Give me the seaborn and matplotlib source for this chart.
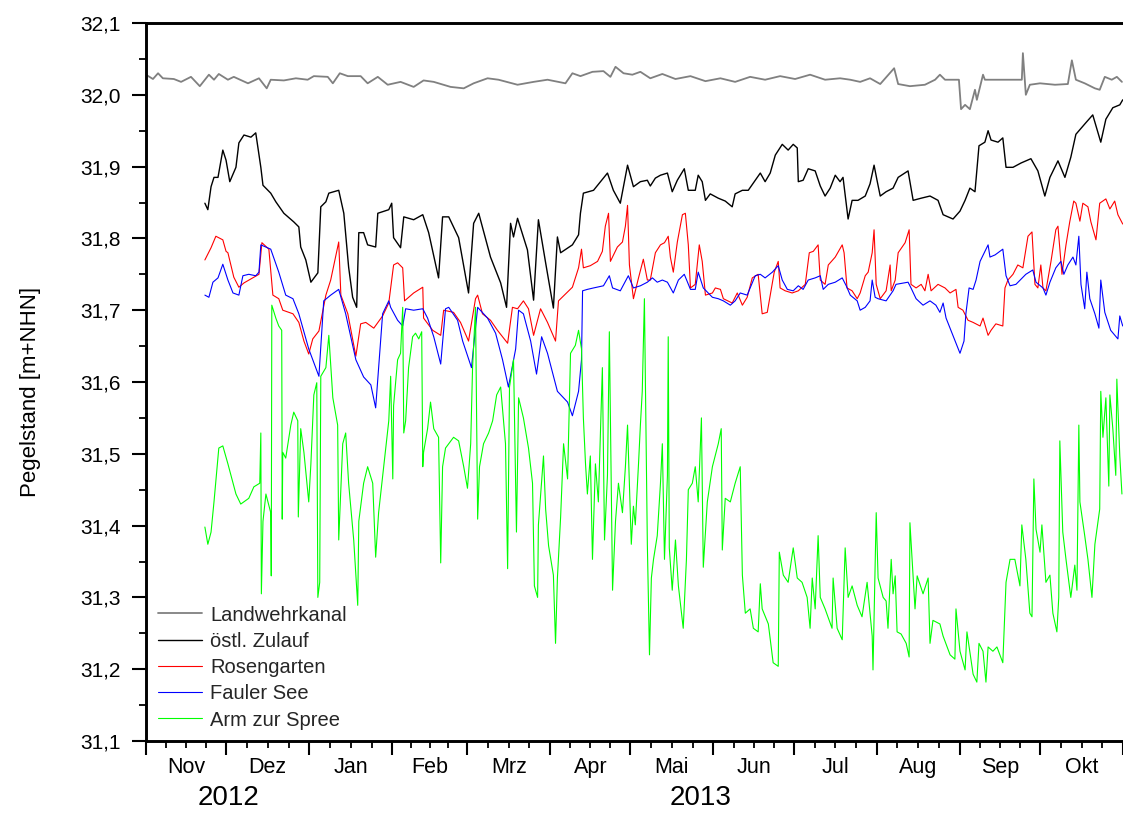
import pandas as pd
import matplotlib
matplotlib.use("Agg")
import matplotlib.pyplot as plt
import matplotlib.dates as mdates
from matplotlib.ticker import MultipleLocator, FuncFormatter, FixedLocator, NullFormatter
from matplotlib.transforms import blended_transform_factory
from matplotlib import font_manager
import seaborn as sns

# ---------------- data (day offset from 2012-11-01, water level m+NHN) ----------------
START = pd.Timestamp("2012-11-01")

landwehrkanal = [
    (0.0, 32.028), (2.6, 32.022), (4.5, 32.030), (6.3, 32.023), (10.4, 32.022), (13.1, 32.018),
    (16.8, 32.025), (20.1, 32.012), (23.5, 32.028), (25.4, 32.021), (27.2, 32.029), (30.6, 32.021),
    (32.8, 32.025), (38.1, 32.016), (42.2, 32.023), (45.1, 32.009), (46.6, 32.021), (51.5, 32.020),
    (56.0, 32.023), (60.4, 32.021), (62.7, 32.026), (67.9, 32.025), (69.8, 32.016), (72.4, 32.030),
    (75.4, 32.026), (80.2, 32.026), (82.8, 32.016), (86.6, 32.025), (90.3, 32.014), (95.1, 32.018),
    (100.0, 32.011), (103.7, 32.020), (107.5, 32.018), (113.8, 32.011), (118.7, 32.009), (122.4, 32.016),
    (127.6, 32.023), (131.7, 32.021), (138.8, 32.014), (144.8, 32.018), (150.0, 32.021), (156.7, 32.016),
    (159.3, 32.030), (162.3, 32.026), (166.8, 32.032), (170.9, 32.033), (173.5, 32.025), (175.4, 32.039),
    (178.4, 32.030), (181.7, 32.028), (184.7, 32.032), (188.4, 32.023), (192.9, 32.029), (197.8, 32.022),
    (203.4, 32.026), (209.0, 32.019), (214.6, 32.023), (220.1, 32.018), (225.7, 32.025), (231.3, 32.021),
    (236.9, 32.026), (242.5, 32.022), (248.1, 32.028), (253.7, 32.021), (259.3, 32.023), (263.1, 32.021),
    (266.8, 32.018), (270.5, 32.023), (274.3, 32.015), (279.5, 32.037), (281.0, 32.015), (285.4, 32.012),
    (291.0, 32.014), (294.8, 32.021), (296.6, 32.028), (298.5, 32.021), (303.7, 32.021), (304.5, 31.980),
    (306.0, 31.986), (307.8, 31.980), (309.7, 32.007), (310.4, 31.993), (312.7, 32.028), (313.4, 32.021),
    (327.2, 32.021), (327.6, 32.058), (328.7, 32.000), (330.2, 32.014), (334.0, 32.016), (339.6, 32.014),
    (344.4, 32.015), (345.9, 32.048), (347.4, 32.021), (350.7, 32.016), (354.5, 32.009), (356.3, 32.007),
    (358.2, 32.025), (360.8, 32.021), (362.7, 32.025), (364.6, 32.018),
]

oestl_zulauf = [
    (22.0, 31.849), (23.1, 31.840), (24.3, 31.872), (25.4, 31.885), (26.9, 31.885), (28.7, 31.923),
    (29.9, 31.909), (31.3, 31.879), (33.6, 31.899), (34.7, 31.933), (36.6, 31.944), (39.2, 31.941),
    (41.0, 31.947), (41.8, 31.927), (42.9, 31.899), (43.7, 31.874), (46.6, 31.863), (48.5, 31.851),
    (51.5, 31.835), (55.2, 31.823), (57.1, 31.816), (57.8, 31.788), (59.7, 31.770), (61.6, 31.739),
    (64.2, 31.752), (65.3, 31.844), (67.2, 31.851), (68.3, 31.863), (72.0, 31.867), (73.9, 31.835),
    (75.7, 31.760), (77.2, 31.718), (78.7, 31.704), (79.5, 31.808), (81.3, 31.808), (82.8, 31.791),
    (85.8, 31.788), (86.6, 31.835), (90.7, 31.840), (91.8, 31.849), (92.5, 31.801), (95.1, 31.787),
    (96.3, 31.830), (100.0, 31.826), (103.4, 31.833), (105.6, 31.808), (109.3, 31.745), (110.8, 31.830),
    (113.1, 31.830), (116.8, 31.801), (120.5, 31.724), (122.4, 31.821), (124.3, 31.835), (128.7, 31.774),
    (132.5, 31.738), (134.7, 31.704), (136.2, 31.821), (137.3, 31.802), (138.8, 31.828), (142.5, 31.784),
    (144.8, 31.714), (146.6, 31.826), (149.3, 31.766), (152.2, 31.703), (153.7, 31.802), (154.9, 31.780),
    (159.3, 31.791), (161.6, 31.805), (162.3, 31.835), (163.4, 31.863), (167.2, 31.867), (172.4, 31.891),
    (174.6, 31.867), (177.2, 31.849), (179.9, 31.902), (182.1, 31.872), (184.7, 31.879), (187.3, 31.881),
    (188.4, 31.873), (190.3, 31.884), (192.2, 31.888), (194.8, 31.891), (196.6, 31.865), (198.5, 31.881),
    (201.1, 31.897), (202.6, 31.867), (205.2, 31.867), (206.3, 31.888), (207.8, 31.879), (209.0, 31.853),
    (210.8, 31.862), (213.8, 31.856), (216.4, 31.852), (219.0, 31.844), (220.1, 31.862), (222.8, 31.867),
    (225.0, 31.867), (227.6, 31.881), (229.5, 31.891), (231.3, 31.879), (233.2, 31.891), (235.1, 31.916),
    (237.7, 31.931), (239.9, 31.923), (241.8, 31.931), (243.3, 31.926), (243.7, 31.879), (245.5, 31.881),
    (247.4, 31.897), (250.0, 31.894), (251.9, 31.873), (253.7, 31.859), (255.6, 31.870), (257.5, 31.888),
    (259.3, 31.879), (260.4, 31.885), (262.3, 31.827), (263.8, 31.853), (266.0, 31.853), (268.7, 31.859),
    (270.5, 31.876), (272.0, 31.902), (273.1, 31.881), (274.3, 31.859), (276.5, 31.865), (279.1, 31.870),
    (281.0, 31.885), (284.7, 31.894), (286.6, 31.853), (289.6, 31.856), (292.9, 31.859), (295.9, 31.853),
    (297.8, 31.833), (301.5, 31.827), (304.1, 31.838), (306.0, 31.853), (307.8, 31.870), (309.7, 31.865),
    (311.2, 31.929), (313.4, 31.934), (314.6, 31.950), (315.7, 31.937), (318.3, 31.934), (320.1, 31.940),
    (321.3, 31.899), (323.9, 31.899), (326.9, 31.905), (330.6, 31.911), (333.2, 31.894), (335.8, 31.859),
    (337.7, 31.885), (340.7, 31.908), (343.3, 31.885), (345.5, 31.913), (347.4, 31.945), (351.1, 31.961),
    (353.7, 31.972), (356.7, 31.934), (358.6, 31.966), (361.2, 31.982), (363.8, 31.986), (364.9, 31.993),
]

rosengarten = [
    (22.0, 31.770), (24.3, 31.787), (26.1, 31.803), (28.7, 31.798), (29.9, 31.782), (30.6, 31.780),
    (32.8, 31.746), (34.7, 31.732), (36.6, 31.738), (39.9, 31.745), (42.2, 31.750), (43.3, 31.794),
    (45.9, 31.785), (47.4, 31.721), (49.6, 31.716), (51.1, 31.700), (54.9, 31.695), (57.1, 31.683),
    (59.0, 31.657), (60.8, 31.639), (62.3, 31.660), (64.6, 31.671), (67.2, 31.721), (69.0, 31.742),
    (72.0, 31.795), (72.8, 31.721), (75.4, 31.695), (78.4, 31.636), (80.2, 31.681), (82.1, 31.683),
    (85.1, 31.675), (88.4, 31.692), (90.7, 31.710), (92.5, 31.763), (94.0, 31.766), (95.9, 31.759),
    (96.6, 31.713), (100.0, 31.724), (103.4, 31.732), (103.7, 31.689), (107.1, 31.672), (110.1, 31.665),
    (111.2, 31.700), (114.9, 31.697), (117.5, 31.683), (120.5, 31.657), (123.1, 31.716), (123.9, 31.721),
    (125.7, 31.695), (128.7, 31.686), (131.3, 31.672), (135.1, 31.654), (136.9, 31.704), (138.8, 31.702),
    (141.0, 31.713), (142.9, 31.702), (144.8, 31.665), (147.4, 31.702), (150.0, 31.683), (153.0, 31.657),
    (154.1, 31.713), (159.3, 31.732), (161.6, 31.759), (162.7, 31.785), (163.4, 31.759), (166.0, 31.762),
    (168.7, 31.768), (170.5, 31.782), (171.6, 31.817), (172.8, 31.835), (173.5, 31.768), (176.1, 31.788),
    (178.0, 31.795), (179.1, 31.817), (179.9, 31.846), (180.6, 31.763), (182.1, 31.716), (184.0, 31.745),
    (185.8, 31.771), (187.3, 31.742), (188.4, 31.742), (190.3, 31.780), (192.2, 31.791), (193.7, 31.794),
    (195.1, 31.803), (195.9, 31.774), (197.0, 31.753), (198.5, 31.795), (200.4, 31.833), (201.5, 31.835),
    (202.6, 31.791), (203.4, 31.731), (205.2, 31.736), (206.7, 31.791), (207.8, 31.768), (209.0, 31.721),
    (211.6, 31.724), (212.7, 31.731), (214.6, 31.729), (215.7, 31.716), (219.0, 31.710), (220.9, 31.724),
    (222.8, 31.707), (224.6, 31.718), (226.5, 31.745), (228.7, 31.750), (230.2, 31.695), (232.1, 31.697),
    (233.2, 31.721), (234.7, 31.753), (236.2, 31.768), (236.9, 31.731), (238.8, 31.727), (241.4, 31.724),
    (243.7, 31.727), (246.3, 31.736), (247.8, 31.780), (249.3, 31.782), (251.1, 31.791), (251.9, 31.742),
    (253.7, 31.736), (254.9, 31.763), (257.5, 31.774), (260.1, 31.791), (260.8, 31.780), (261.9, 31.731),
    (263.8, 31.727), (265.7, 31.716), (266.8, 31.724), (268.7, 31.748), (269.8, 31.753), (271.3, 31.780),
    (272.0, 31.812), (272.8, 31.736), (274.3, 31.716), (276.5, 31.727), (278.0, 31.763), (278.4, 31.727),
    (279.9, 31.742), (281.0, 31.780), (283.6, 31.794), (285.1, 31.812), (285.8, 31.736), (287.7, 31.731),
    (289.6, 31.736), (291.0, 31.727), (292.2, 31.750), (293.3, 31.727), (295.9, 31.736), (298.5, 31.731),
    (300.4, 31.724), (302.6, 31.729), (303.4, 31.704), (305.2, 31.700), (307.1, 31.686), (309.0, 31.683),
    (311.6, 31.678), (312.7, 31.689), (314.6, 31.665), (315.7, 31.672), (317.5, 31.681), (320.1, 31.678),
    (320.9, 31.731), (322.0, 31.742), (323.9, 31.750), (325.7, 31.763), (327.6, 31.759), (329.5, 31.803),
    (331.0, 31.809), (332.1, 31.736), (333.2, 31.731), (334.3, 31.763), (335.1, 31.731), (336.2, 31.727),
    (338.1, 31.768), (339.9, 31.812), (340.7, 31.817), (342.2, 31.750), (343.7, 31.791), (345.1, 31.823),
    (346.6, 31.852), (347.4, 31.849), (348.9, 31.824), (350.0, 31.849), (351.9, 31.844), (353.0, 31.823),
    (354.9, 31.798), (356.3, 31.849), (358.6, 31.855), (360.1, 31.841), (361.9, 31.852), (363.1, 31.833),
    (364.9, 31.820),
]

fauler_see = [
    (22.0, 31.721), (23.5, 31.718), (25.0, 31.739), (26.9, 31.745), (28.7, 31.764), (30.6, 31.742),
    (32.5, 31.724), (34.7, 31.721), (36.2, 31.748), (38.4, 31.750), (41.0, 31.748), (42.2, 31.753),
    (42.9, 31.791), (46.6, 31.785), (49.6, 31.753), (52.2, 31.721), (54.9, 31.716), (57.1, 31.695),
    (60.8, 31.646), (64.6, 31.608), (66.4, 31.713), (69.0, 31.721), (72.0, 31.729), (74.6, 31.695),
    (78.4, 31.631), (81.3, 31.607), (84.0, 31.596), (85.8, 31.564), (88.4, 31.695), (90.7, 31.713),
    (91.4, 31.704), (94.0, 31.686), (95.9, 31.678), (97.0, 31.702), (100.0, 31.700), (103.4, 31.702),
    (105.2, 31.689), (107.5, 31.663), (110.1, 31.625), (111.9, 31.702), (113.1, 31.704), (116.4, 31.686),
    (118.3, 31.657), (121.6, 31.620), (123.9, 31.704), (127.6, 31.689), (130.6, 31.668), (133.2, 31.631),
    (135.4, 31.593), (138.1, 31.646), (139.2, 31.700), (141.0, 31.695), (143.7, 31.657), (145.9, 31.611),
    (147.8, 31.663), (150.0, 31.640), (153.7, 31.587), (157.5, 31.572), (159.3, 31.553), (161.6, 31.587),
    (162.7, 31.631), (163.1, 31.727), (164.9, 31.729), (167.2, 31.731), (170.9, 31.734), (173.1, 31.748),
    (174.3, 31.731), (177.2, 31.727), (180.2, 31.748), (182.1, 31.731), (184.7, 31.734), (187.3, 31.739),
    (189.2, 31.745), (191.0, 31.739), (192.9, 31.742), (194.8, 31.739), (197.0, 31.724), (198.9, 31.742),
    (201.1, 31.750), (203.4, 31.729), (205.2, 31.729), (206.3, 31.753), (208.2, 31.731), (211.6, 31.718),
    (213.8, 31.716), (215.7, 31.713), (218.3, 31.707), (220.1, 31.713), (222.0, 31.724), (224.6, 31.721),
    (227.6, 31.748), (229.5, 31.750), (231.3, 31.745), (234.0, 31.753), (236.2, 31.762), (237.7, 31.742),
    (239.6, 31.729), (241.8, 31.727), (243.7, 31.734), (245.5, 31.729), (247.4, 31.742), (250.0, 31.745),
    (251.9, 31.748), (253.0, 31.729), (254.9, 31.736), (257.5, 31.739), (260.1, 31.745), (261.6, 31.734),
    (263.1, 31.721), (265.7, 31.713), (266.8, 31.700), (268.7, 31.704), (270.5, 31.713), (271.3, 31.742),
    (272.4, 31.718), (273.5, 31.716), (276.5, 31.713), (279.1, 31.727), (280.2, 31.736), (284.7, 31.739),
    (285.8, 31.731), (287.7, 31.716), (290.3, 31.707), (292.9, 31.713), (295.1, 31.707), (296.6, 31.697),
    (297.8, 31.710), (298.9, 31.689), (300.7, 31.672), (302.6, 31.654), (304.1, 31.640), (305.6, 31.657),
    (306.3, 31.695), (307.5, 31.731), (309.0, 31.729), (310.1, 31.742), (311.6, 31.768), (313.4, 31.782),
    (314.6, 31.791), (315.3, 31.774), (317.2, 31.777), (320.1, 31.785), (321.3, 31.748), (322.8, 31.734),
    (325.0, 31.736), (328.7, 31.750), (331.3, 31.756), (332.5, 31.739), (335.1, 31.731), (336.2, 31.721),
    (337.7, 31.739), (339.9, 31.759), (341.8, 31.768), (342.9, 31.750), (344.4, 31.763), (346.3, 31.774),
    (347.4, 31.763), (348.5, 31.803), (349.3, 31.736), (350.7, 31.702), (351.5, 31.753), (352.6, 31.716),
    (354.5, 31.695), (356.0, 31.675), (356.7, 31.742), (358.2, 31.697), (360.4, 31.672), (363.1, 31.660),
    (363.8, 31.692), (364.9, 31.678),
]

arm_zur_spree = [
    (22.0, 31.398), (23.1, 31.374), (24.3, 31.391), (25.4, 31.433), (27.2, 31.508), (28.7, 31.511),
    (30.6, 31.486), (33.6, 31.444), (35.4, 31.430), (38.4, 31.438), (40.3, 31.454), (42.5, 31.459),
    (42.9, 31.529), (43.1, 31.305), (43.7, 31.406), (44.8, 31.444), (46.6, 31.418), (46.8, 31.330),
    (47.0, 31.707), (48.5, 31.689), (49.6, 31.678), (50.7, 31.672), (50.9, 31.409), (51.1, 31.502),
    (52.2, 31.494), (54.1, 31.540), (55.2, 31.558), (56.7, 31.546), (56.9, 31.412), (57.8, 31.535),
    (59.0, 31.502), (60.8, 31.433), (61.6, 31.486), (62.7, 31.582), (63.8, 31.599), (64.2, 31.300),
    (64.9, 31.321), (65.3, 31.608), (67.2, 31.620), (68.3, 31.665), (69.8, 31.578), (71.6, 31.540),
    (72.0, 31.380), (73.5, 31.514), (74.6, 31.529), (75.7, 31.459), (77.6, 31.380), (79.1, 31.289),
    (79.5, 31.406), (81.3, 31.459), (82.8, 31.482), (84.7, 31.459), (85.8, 31.356), (86.9, 31.418),
    (88.8, 31.482), (90.7, 31.546), (91.4, 31.608), (92.2, 31.465), (92.5, 31.567), (94.0, 31.631),
    (95.1, 31.640), (95.9, 31.704), (96.3, 31.529), (97.0, 31.546), (98.1, 31.620), (99.6, 31.663),
    (100.7, 31.668), (101.9, 31.660), (103.0, 31.670), (103.4, 31.482), (103.7, 31.502), (105.2, 31.535),
    (106.3, 31.572), (107.5, 31.535), (109.3, 31.523), (110.1, 31.348), (110.8, 31.482), (111.9, 31.508),
    (114.9, 31.523), (116.8, 31.518), (118.7, 31.482), (120.1, 31.452), (121.3, 31.514), (122.0, 31.620),
    (123.1, 31.704), (123.9, 31.409), (124.6, 31.482), (126.1, 31.514), (128.0, 31.529), (129.5, 31.546),
    (131.0, 31.582), (132.5, 31.593), (134.3, 31.514), (135.1, 31.340), (135.8, 31.593), (137.3, 31.631),
    (138.4, 31.391), (139.2, 31.578), (141.0, 31.550), (142.9, 31.508), (144.4, 31.459), (145.1, 31.316),
    (146.3, 31.300), (146.6, 31.401), (148.5, 31.497), (149.3, 31.423), (150.4, 31.372), (152.2, 31.331),
    (153.0, 31.236), (153.7, 31.327), (154.9, 31.412), (156.0, 31.514), (157.5, 31.465), (158.6, 31.640),
    (160.4, 31.651), (161.6, 31.672), (162.7, 31.646), (163.4, 31.550), (164.2, 31.486), (164.9, 31.444),
    (166.0, 31.497), (166.8, 31.353), (167.9, 31.486), (169.0, 31.433), (170.5, 31.620), (171.3, 31.380),
    (172.4, 31.470), (173.1, 31.670), (174.3, 31.310), (175.4, 31.406), (176.5, 31.459), (178.0, 31.418),
    (179.1, 31.482), (179.9, 31.540), (181.3, 31.374), (182.1, 31.427), (182.8, 31.401), (184.0, 31.486),
    (184.7, 31.540), (185.4, 31.587), (186.2, 31.716), (187.3, 31.374), (188.1, 31.220), (188.8, 31.327),
    (189.6, 31.353), (191.0, 31.386), (192.2, 31.459), (192.9, 31.514), (193.7, 31.353), (194.8, 31.470),
    (195.1, 31.663), (195.5, 31.369), (196.6, 31.310), (197.8, 31.380), (198.9, 31.316), (200.7, 31.257),
    (201.9, 31.353), (202.6, 31.450), (204.1, 31.459), (205.2, 31.482), (206.3, 31.433), (207.5, 31.550),
    (208.2, 31.342), (209.7, 31.433), (211.6, 31.482), (213.8, 31.514), (214.9, 31.535), (215.3, 31.366),
    (216.4, 31.438), (218.3, 31.433), (220.1, 31.459), (222.0, 31.482), (222.8, 31.331), (223.9, 31.278),
    (225.7, 31.284), (226.9, 31.257), (228.7, 31.252), (229.5, 31.319), (230.2, 31.284), (232.5, 31.263),
    (234.3, 31.209), (236.2, 31.204), (236.6, 31.363), (238.1, 31.331), (239.9, 31.321), (241.8, 31.369),
    (243.3, 31.327), (245.1, 31.321), (247.0, 31.300), (248.1, 31.257), (248.9, 31.327), (250.0, 31.284),
    (251.1, 31.386), (251.9, 31.300), (253.7, 31.284), (256.3, 31.257), (256.7, 31.327), (258.2, 31.257),
    (260.1, 31.241), (261.2, 31.369), (262.3, 31.300), (263.8, 31.316), (265.7, 31.289), (267.5, 31.273),
    (269.4, 31.321), (271.3, 31.246), (271.6, 31.199), (272.8, 31.418), (273.5, 31.327), (275.4, 31.300),
    (276.5, 31.295), (277.2, 31.257), (278.4, 31.353), (279.1, 31.305), (279.9, 31.330), (280.6, 31.252),
    (282.1, 31.249), (284.0, 31.236), (285.1, 31.217), (285.4, 31.404), (287.3, 31.284), (288.1, 31.330),
    (290.3, 31.305), (292.2, 31.327), (292.9, 31.236), (294.0, 31.268), (296.6, 31.263), (297.8, 31.246),
    (300.4, 31.220), (302.2, 31.214), (302.6, 31.284), (304.1, 31.225), (306.0, 31.199), (306.7, 31.252),
    (309.0, 31.193), (310.4, 31.182), (311.2, 31.236), (312.7, 31.225), (313.8, 31.182), (314.6, 31.231),
    (316.4, 31.225), (317.9, 31.231), (320.1, 31.209), (321.3, 31.321), (322.8, 31.353), (324.6, 31.353),
    (326.5, 31.316), (327.2, 31.401), (328.7, 31.353), (330.2, 31.278), (331.0, 31.273), (331.7, 31.465),
    (332.5, 31.395), (334.0, 31.363), (334.7, 31.401), (336.2, 31.321), (337.7, 31.331), (338.8, 31.278),
    (340.3, 31.252), (341.0, 31.300), (341.4, 31.518), (342.5, 31.391), (343.7, 31.353), (345.5, 31.300),
    (347.0, 31.345), (347.8, 31.310), (348.5, 31.540), (348.9, 31.433), (350.7, 31.386), (351.9, 31.353),
    (353.4, 31.300), (354.5, 31.374), (356.3, 31.423), (356.7, 31.587), (357.5, 31.523), (358.6, 31.578),
    (359.7, 31.455), (360.1, 31.582), (361.2, 31.535), (362.3, 31.470), (362.7, 31.604), (363.8, 31.497),
    (364.6, 31.444),
]

series_names = ["Landwehrkanal", "östl. Zulauf", "Rosengarten", "Fauler See", "Arm zur Spree"]
series_data = [landwehrkanal, oestl_zulauf, rosengarten, fauler_see, arm_zur_spree]
series_colors = ["#808080", "#000000", "#ff0000", "#0000ff", "#00ff00"]
series_widths = [1.3, 1.0, 0.8, 0.8, 0.8]
month_labels = ["Nov", "Dez", "Jan", "Feb", "Mrz", "Apr", "Mai", "Jun", "Jul", "Aug", "Sep", "Okt"]
year_labels = [("2012", 31), ("2013", 207)]

# ---------------- long-form table ----------------
rows = []
for name, data in zip(series_names, series_data):
    for d, v in data:
        rows.append((name, START + pd.Timedelta(days=d), v))
df = pd.DataFrame(rows, columns=["Messstelle", "Datum", "Pegel"])

# ---------------- figure ----------------
sns.set_style("ticks")
plt.rcParams["font.family"] = ["Liberation Sans", "DejaVu Sans"]

installed = {f.name for f in font_manager.fontManager.ttflist}
if "Liberation Sans Narrow" in installed:
    ylabel_family, ylabel_size = ["Liberation Sans Narrow", "Liberation Sans"], 19
else:
    ylabel_family, ylabel_size = ["Liberation Sans", "DejaVu Sans"], 16

W, H = 1123, 813
fig = plt.figure(figsize=(W / 100, H / 100), dpi=100)
ax = fig.add_axes([146 / W, (H - 741) / H, (W - 146) / W, (741 - 23) / H])

for name, color, lw in zip(series_names, series_colors, series_widths):
    sub = df[df["Messstelle"] == name]
    sns.lineplot(data=sub, x="Datum", y="Pegel", color=color, linewidth=lw,
                 label=name, ax=ax, estimator=None, sort=False)

# x axis
ax.set_xlim(START, START + pd.Timedelta(days=365))
month_starts = pd.date_range("2012-11-01", "2013-11-01", freq="MS")
ax.xaxis.set_major_locator(FixedLocator(mdates.date2num(month_starts)))
ax.xaxis.set_major_formatter(NullFormatter())
minor = []
for a, b in zip(month_starts[:-1], month_starts[1:]):
    for k in (1, 2, 3):
        minor.append(mdates.date2num(a + (b - a) * k / 4))
ax.xaxis.set_minor_locator(FixedLocator(minor))
ax.set_xlabel("")

trans = blended_transform_factory(ax.transData, ax.transAxes)
for a, b, lab in zip(month_starts[:-1], month_starts[1:], month_labels):
    ax.text(a + (b - a) / 2, -0.037, lab, transform=trans, ha="center", va="center",
            fontsize=15.5, color="black")
for lab, d in year_labels:
    ax.text(START + pd.Timedelta(days=d), -0.079, lab, transform=trans, ha="center",
            va="center", fontsize=20, color="black")

# y axis
ax.set_ylim(31.1, 32.1)
ax.yaxis.set_major_locator(MultipleLocator(0.1))
ax.yaxis.set_minor_locator(MultipleLocator(0.05))
ax.yaxis.set_major_formatter(FuncFormatter(lambda v, _: f"{v:.1f}".replace(".", ",")))
ax.set_ylabel("Pegelstand [m+NHN]", fontsize=ylabel_size, family=ylabel_family, color="black",
              ha="center", va="center", rotation_mode="anchor")
ax.yaxis.set_label_coords(-0.1185, 0.486)

# spines and ticks
for side in ("left", "top", "bottom"):
    ax.spines[side].set_linewidth(2.1)
    ax.spines[side].set_color("black")
ax.spines["right"].set_visible(False)
ax.tick_params(axis="both", which="major", direction="out", length=10, width=1.5,
               colors="black", labelsize=15, top=False, right=False)
ax.tick_params(axis="y", which="major", pad=8.5)
ax.tick_params(axis="both", which="minor", direction="out", length=5, width=1.3,
               colors="black", top=False, right=False)

handles, labels = ax.get_legend_handles_labels()
ax.legend(handles, labels, loc="lower left", bbox_to_anchor=(0.012, 0.016), frameon=False,
          fontsize=14.5, handlelength=2.2, handletextpad=0.4, labelspacing=0.36,
          borderpad=0, borderaxespad=0)

fig.savefig("out.png", dpi=100)
